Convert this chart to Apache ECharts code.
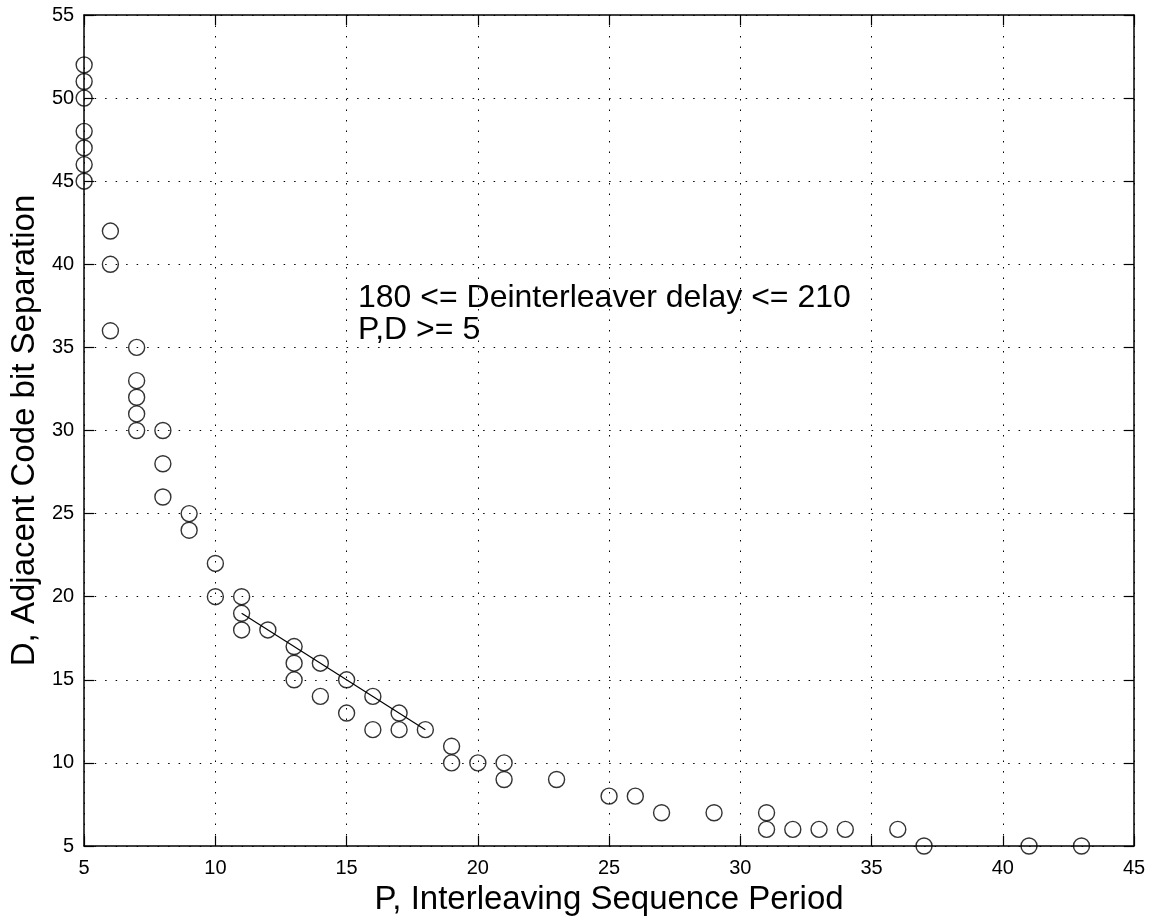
<!DOCTYPE html>
<html>
<head>
<meta charset="utf-8">
<script src="https://cdn.jsdelivr.net/npm/echarts@6/dist/echarts.min.js"></script>
<style>
html,body{margin:0;padding:0;background:#fff;}
#chart{width:1156px;height:922px;}
</style>
</head>
<body>
<div id="chart"></div>
<script>
// P (interleaving sequence period) and D (adjacent code bit separation) pairs
const pValues = [5,5,5,5,5,5,5, 6,6,6, 7,7,7,7,7, 8,8,8, 9,9, 10,10, 11,11,11, 12, 13,13,13, 14,14, 15,15, 16,16, 17,17, 18, 19,19, 20, 21,21, 23, 25, 26, 27, 29, 31,31, 32, 33, 34, 36, 37, 41, 43];
const dValues = [45,46,47,48,50,51,52, 36,40,42, 30,31,32,33,35, 26,28,30, 24,25, 20,22, 18,19,20, 18, 15,16,17, 14,16, 13,15, 12,14, 12,13, 12, 10,11, 10, 9,10, 9, 8, 8, 7, 7, 6,7, 6, 6, 6, 6, 5, 5, 5];
// straight reference line
const lineP = [11, 18];
const lineD = [19, 12];
const xTicks = {min: 5, max: 45, interval: 5};
const yTicks = {min: 5, max: 55, interval: 5};
const xTitle = 'P, Interleaving Sequence Period';
const yTitle = 'D, Adjacent Code bit Separation';
const noteLines = ['180 <= Deinterleaver delay <= 210', 'P,D >= 5'];

const FONT = '"Liberation Sans", Arial, Helvetica, sans-serif';
const scatterData = pValues.map((p, i) => [p, dValues[i]]);
const lineData = lineP.map((p, i) => [p, lineD[i]]);

const axisLine = {show: true, onZero: false, lineStyle: {color: '#000', width: 1.5}};
const axisTick = {show: true, inside: true, length: 10, lineStyle: {color: '#000', width: 1.2}};
const splitLine = {show: true, lineStyle: {color: '#000', width: 1, type: [1.5, 9]}};

const chart = echarts.init(document.getElementById('chart'), null, {renderer: 'canvas'});
chart.setOption({
  animation: false,
  backgroundColor: '#fff',
  grid: {left: 82, right: 22, top: 15, bottom: 76, containLabel: false},
  xAxis: [
    {type: 'value', position: 'bottom', min: xTicks.min, max: xTicks.max, interval: xTicks.interval,
     axisLine, axisTick, splitLine,
     axisLabel: {color: '#000', fontSize: 20, fontFamily: FONT, margin: 12},
     name: xTitle, nameLocation: 'middle', nameGap: 37,
     nameTextStyle: {color: '#000', fontSize: 33, fontFamily: FONT}},
    {type: 'value', position: 'top', min: xTicks.min, max: xTicks.max, interval: xTicks.interval,
     axisLine, axisTick, splitLine: {show: false}, axisLabel: {show: false}}
  ],
  yAxis: [
    {type: 'value', position: 'left', min: yTicks.min, max: yTicks.max, interval: yTicks.interval,
     axisLine, axisTick, splitLine,
     axisLabel: {color: '#000', fontSize: 20, fontFamily: FONT, margin: 10},
     name: yTitle, nameLocation: 'middle', nameGap: 28, nameRotate: 90,
     nameTextStyle: {color: '#000', fontSize: 33, fontFamily: FONT}},
    {type: 'value', position: 'right', min: yTicks.min, max: yTicks.max, interval: yTicks.interval,
     axisLine, axisTick, splitLine: {show: false}, axisLabel: {show: false}}
  ],
  graphic: [
    {type: 'text', left: 358, top: 282, silent: true,
     style: {text: noteLines[0], font: '32px ' + FONT, fill: '#000'}},
    {type: 'text', left: 358, top: 314, silent: true,
     style: {text: noteLines[1], font: '32px ' + FONT, fill: '#000'}}
  ],
  series: [
    {type: 'line', data: lineData, symbol: 'none', silent: true,
     lineStyle: {color: '#000', width: 1.2}, clip: false, z: 2},
    {type: 'scatter', data: scatterData, symbol: 'circle', symbolSize: 16, clip: false, silent: true,
     itemStyle: {color: 'rgba(0,0,0,0)', borderColor: '#000', borderWidth: 1.4}, z: 3}
  ]
});
</script>
</body>
</html>
